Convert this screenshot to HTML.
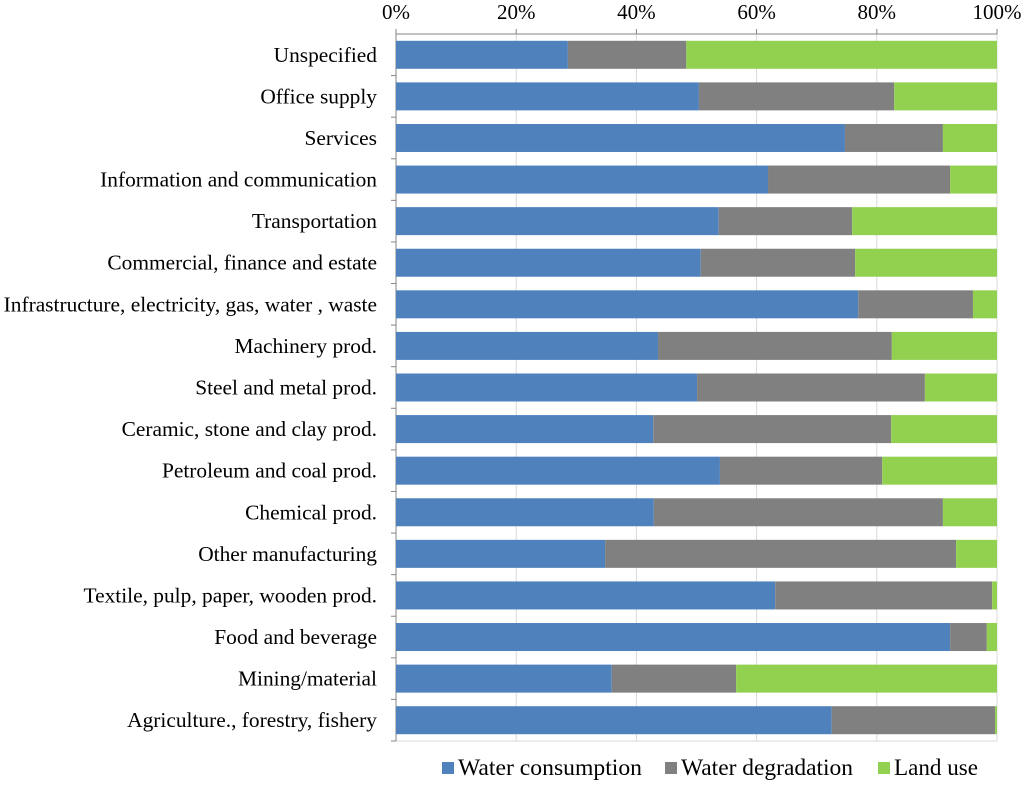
<!DOCTYPE html>
<html><head><meta charset="utf-8"><style>
body{margin:0;background:#fff;width:1024px;height:783px;overflow:hidden}
svg text{font-family:"Liberation Serif","Times New Roman",Times,serif;fill:#000}
</style></head><body>
<svg id="chart" width="1024" height="783"></svg>
<script>
const categories=["Unspecified","Office supply","Services","Information and communication","Transportation","Commercial, finance and estate","Infrastructure, electricity, gas, water , waste","Machinery prod.","Steel and metal prod.","Ceramic, stone and clay prod.","Petroleum and coal prod.","Chemical prod.","Other manufacturing","Textile, pulp, paper, wooden prod.","Food and beverage","Mining/material","Agriculture., forestry, fishery"];
const waterConsumption=[28.6,50.4,74.7,61.9,53.7,50.7,76.9,43.6,50.1,42.8,53.9,42.9,34.8,63.1,92.2,35.9,72.5];
const waterDegradation=[19.7,32.5,16.3,30.3,22.2,25.7,19.1,38.9,37.9,39.6,27.0,48.1,58.4,36.1,6.1,20.7,27.2];
const landUse=[51.7,17.1,9.0,7.8,24.1,23.6,4.0,17.5,12.0,17.6,19.1,9.0,6.8,0.8,1.7,43.4,0.3];
const tickLabels=["0%","20%","40%","60%","80%","100%"];
const tickValues=[0,20,40,60,80,100];
const seriesNames=["Water consumption","Water degradation","Land use"];
const colors=["#4f81bd","#808080","#92d050"];
const NS="http://www.w3.org/2000/svg";
const FF='"Liberation Serif", "Times New Roman", serif';
const svg=document.getElementById('chart');
const x0=396,x1=997,yTop=34,yBot=741,rowH=(yBot-yTop)/17,barH=28;
const xs=v=>x0+(x1-x0)*v/100;
const yc=i=>yTop+rowH*(i+0.5);
function mk(t,a){const e=document.createElementNS(NS,t);for(const k in a)e.setAttribute(k,a[k]);if(t==='text')e.setAttribute('font-family',FF);svg.appendChild(e);return e;}
tickValues.forEach((v,i)=>{
 if(v>0){let g=mk('line',{x1:xs(v),x2:xs(v),y1:yTop,y2:yBot,stroke:'#d9d9d9'});
 
 }
});
let e=mk('line',{x1:x0,x2:x1,y1:yBot,y2:yBot,stroke:'#d9d9d9'});


e=mk('line',{x1:x0,x2:x1,y1:yTop,y2:yTop,stroke:'#868686'});


e=mk('line',{x1:x0,x2:x0,y1:yTop,y2:yBot,stroke:'#868686'});


tickValues.forEach((v,i)=>{
 let t=mk('line',{x1:xs(v),x2:xs(v),y1:29,y2:yTop,stroke:'#868686'});
 
 
 let l=mk('text',{x:xs(v),y:19,'text-anchor':'middle','font-size':21});
 l.textContent=tickLabels[i];
 
 
});
const series=[waterConsumption,waterDegradation,landUse];
categories.forEach((c,i)=>{
 let l=mk('text',{x:377,y:yc(i)+7,'text-anchor':'end','font-size':21.4});
 l.textContent=c;
 
 
 let tk=mk('line',{x1:391,x2:396,y1:yTop+rowH*(i+1),y2:yTop+rowH*(i+1),stroke:'#868686'});
 
 
 let acc=0;
 series.forEach((s,k)=>{
  const r=mk('rect',{x:xs(acc),y:yc(i)-barH/2,width:xs(acc+s[i])-xs(acc),height:barH,fill:colors[k]});
  
  
  acc+=s[i];
 });
});
const lx=[442,665,878];
const lw=[184,172,84];
seriesNames.forEach((n,k)=>{
 const r=mk('rect',{x:lx[k],y:762,width:12,height:12,fill:colors[k]});
 
 
 const t=mk('text',{x:lx[k]+16,y:775,'font-size':23,textLength:lw[k],lengthAdjust:'spacingAndGlyphs'});
 t.textContent=n;
 
 
});
</script>
</body></html>
